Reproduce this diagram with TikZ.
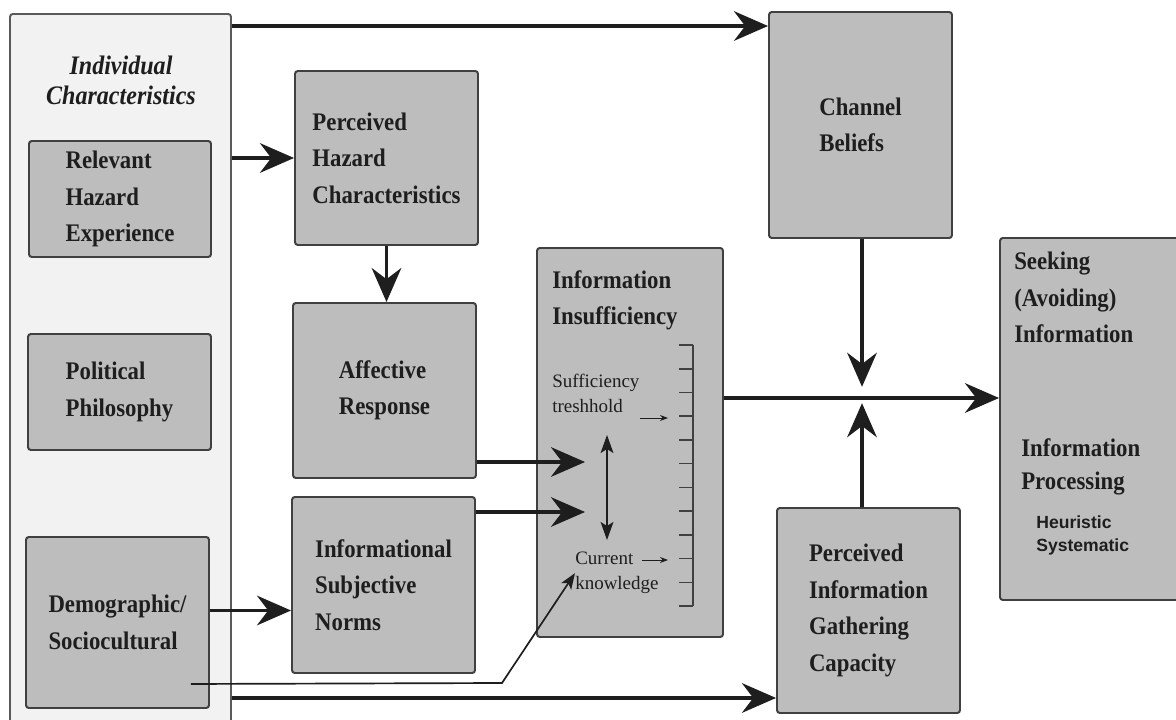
\documentclass[tikz,border=0pt]{standalone}
\usepackage{fontspec}
\setmainfont{Liberation Serif}
\setsansfont{Liberation Sans}
\newfontfamily\boxfam{Liberation Serif}[FakeStretch=0.9]
\usetikzlibrary{calc,arrows.meta}
\definecolor{ink}{HTML}{1E1E1E}
\definecolor{boxfill}{HTML}{BDBDBD}
\definecolor{boxline}{HTML}{404040}
\definecolor{outerfill}{HTML}{F2F2F2}
\definecolor{outerline}{HTML}{5A5A5A}
\tikzset{
  sz/.style 2 args={minimum width=#1*0.025cm, minimum height=#2*0.025cm},
  boxfont/.style={font=\boxfam\bfseries\fontsize{18}{26}\selectfont, text=ink},
  box/.style={draw=boxline, fill=boxfill, line width=1.4pt, rounded corners=2pt, inner sep=0pt, align=left, boxfont},
  outerbox/.style={draw=outerline, fill=outerfill, line width=1.4pt, rounded corners=2pt, inner sep=0pt},
  lab/.style={inner sep=0pt, align=left, anchor=north west, text=ink},
  smallfont/.style={font=\fontsize{13.5}{17.8}\selectfont},
  bigarr/.style={-{Stealth[length=0.85cm,width=0.74cm,inset=0.28cm]}, line width=2.3pt, draw=ink},
  midarr/.style={-{Stealth[length=0.4cm,width=0.3cm,inset=0.1cm]}, line width=1.2pt, draw=ink},
  dblarr/.style={{Stealth[length=0.45cm,width=0.32cm,inset=0.1cm]}-{Stealth[length=0.45cm,width=0.32cm,inset=0.1cm]}, line width=1.3pt, draw=ink},
  tinyarr/.style={-{Stealth[length=0.2cm,width=0.15cm]}, line width=0.7pt, draw=ink},
  tick/.style={line width=1.1pt, draw=ink!85},
}
\begin{document}
\begin{tikzpicture}[x=0.025cm, y=-0.025cm]
  \fill[white] (0,0) rectangle (1176,720);
  \useasboundingbox (0,0) rectangle (1176,720);

  % individual characteristics column
  \node[outerbox, sz={221}{712}] (ind) at (120.5,370) {};
  \node[font=\boxfam\bfseries\itshape\fontsize{19}{21.5}\selectfont, text=ink, align=center, inner sep=0pt] (indlab) at (121,80) {Individual\\Characteristics};
  \node[box, sz={182}{116}] (rhe) at (120,199) {Relevant\\Hazard\\Experience};
  \node[box, sz={183}{116}] (pp) at (119.5,392) {Political\\Philosophy};
  \node[box, sz={183}{171}] (demo) at (117.5,622.5) {Demographic/\\Sociocultural};

  % middle column
  \node[box, sz={183}{174}] (phc) at (386.5,158) {Perceived\\Hazard\\Characteristics};
  \node[box, sz={183}{175}] (ar) at (384.5,390.5) {Affective\\Response};
  \node[box, sz={183}{176}] (isn) at (383.5,585) {Informational\\Subjective\\Norms};

  % information insufficiency and its scale
  \node[box, sz={186}{389}] (ii) at (630,442.5) {};
  \node[lab, boxfont] (iilab) at ($(ii.north west)+(16,23)$) {Information\\Insufficiency};
  \coordinate (stop) at ($(ii.north east)+(-31,98)$);
  \coordinate (sbot) at ($(ii.north east)+(-31,359)$);
  \draw[tick] (stop) -- (sbot);
  \foreach \k in {0,...,11}
    \draw[tick] ($(stop)+(0,\k*23.73)$) -- ++(-14,0);
  \node[lab, smallfont] (suff) at (552,374) {Sufficiency\\treshhold};
  \node[lab, smallfont] (cur) at (575,552) {Current\\knowledge};
  \coordinate (thr) at (668,418);
  \coordinate (ckn) at (668,560);
  \draw[tinyarr] ($(thr)+(-28,0)$) -- (thr);
  \draw[tinyarr] ($(ckn)+(-26,0)$) -- (ckn);
  \coordinate (dtop) at (607,435);
  \coordinate (dbot) at (607,540);
  \draw[dblarr] (dtop) -- (dbot);

  % right side
  \node[box, sz={183}{226}] (cb) at (860.5,125) {Channel\\Beliefs};
  \node[box, sz={183}{205}] (pigc) at (868.5,610.5) {Perceived\\Information\\Gathering\\Capacity};
  \node[box, sz={186}{362}] (sai) at (1093,419) {};
  \node[lab, boxfont] (seek) at ($(sai.north west)+(15,15)$) {Seeking\\(Avoiding)\\Information};
  \node[lab, boxfont, font=\boxfam\bfseries\fontsize{18}{23.5}\selectfont] (proc) at ($(sai.north west)+(22,201)$) {Information\\Processing};
  \node[lab, font=\sffamily\bfseries\fontsize{12.5}{17}\selectfont] (heur) at ($(sai.north west)+(37,278)$) {Heuristic\\Systematic};

  % connectors
  \coordinate (cbin) at ($(cb.north west)+(0,15)$);
  \draw[bigarr] (ind.east |- cbin) -- (cbin);
  \draw[bigarr] (ind.east |- phc.west) -- (phc.west);
  \draw[bigarr] (phc.south) -- (phc.south |- ar.north);
  \coordinate (inA) at (585,462);
  \coordinate (inB) at (585,512);
  \draw[bigarr] (ar.east |- inA) -- (inA);
  \draw[bigarr] (isn.east |- inB) -- (inB);
  \coordinate (dsrc) at ($(demo.east)+(0,-12)$);
  \draw[bigarr] (dsrc) -- (isn.west |- dsrc);
  \coordinate (pgin) at ($(pigc.south west)+(0,-16)$);
  \draw[bigarr] (ind.east |- pgin) -- (pgin);
  \coordinate (dlow) at ($(demo.south east)+(-19,-25)$);
  \coordinate (bend) at (502,683);
  \draw[midarr] (dlow) -- (bend) -- (cur.west);

  % junction in front of seeking
  \coordinate (jn) at (862,398);
  \draw[bigarr] (ii.east |- jn) -- (sai.west |- jn);
  \draw[bigarr, shorten >=0.28cm] (jn |- cb.south) -- (jn);
  \draw[bigarr, shorten >=0.13cm] (jn |- pigc.north) -- (jn);
\end{tikzpicture}
\end{document}
